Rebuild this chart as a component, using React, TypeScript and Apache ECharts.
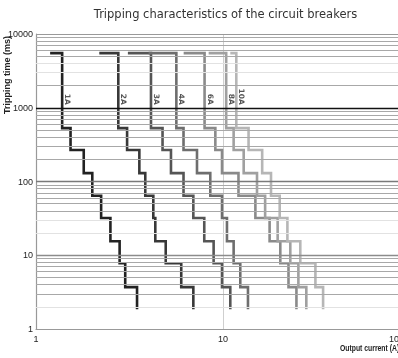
import React, { useEffect, useRef } from "react";
import * as echarts from "echarts";

const ratings = ["1A", "2A", "3A", "4A", "6A", "8A", "10A"];
const lineColors = ["#222222", "#383838", "#555555", "#6e6e6e", "#8a8a8a", "#a0a0a0", "#b6b6b6"];
// trip time levels (ms) of each step, top to bottom
const stepTimesMs = [5500, 530, 268, 130, 64, 32, 15.5, 7.8, 3.7];
const endTimeMs = 1.85;
// current where the top plateau starts (A)
const startCurrents = [1.19, 2.18, 3.1, 4.0, 6.16, 8.38, 10.94];
// current of each vertical drop (A)
const steps1A = [1.38, 1.53, 1.8, 2.0, 2.23, 2.5, 2.8, 3.0, 3.47];
const steps2A = [2.755, 3.07, 3.57, 3.84, 4.24, 4.345, 4.94, 5.98, 6.94];
const steps3A = [4.12, 4.75, 5.27, 6.15, 6.94, 7.94, 8.91, 9.88, 10.94];
const steps4A = [5.63, 6.15, 7.26, 8.55, 9.88, 10.5, 11.4, 12.37, 13.6];
const steps6A = [7.97, 9.1, 9.88, 12.1, 14.9, 17.75, 20.25, 22.4, 24.7];
const steps8A = [10.4, 11.4, 12.9, 15.2, 16.8, 19.6, 22.9, 25.3, 27.9];
const steps10A = [11.78, 13.7, 16.2, 18.06, 20.1, 22.1, 25.9, 31.2, 34.3];
const allSteps = [steps1A, steps2A, steps3A, steps4A, steps6A, steps8A, steps10A];
const labelTimeMs = 1100;

const xTicks = [1, 10, 100];
const yTicks = [1, 10, 100, 1000, 10000];
const minorLinesMs = [
  2, 3, 4, 5, 6, 7, 8, 9,
  20, 30, 40, 50, 60, 70, 80, 90,
  200, 300, 400, 500, 600, 700, 800, 900,
  2000, 3000, 4000, 5000, 6000, 7000, 8000, 9000,
];
const lightMinorMs = [2, 20, 30, 3000, 4000];

function buildSteps(start: number, steps: number[]) {
  const pts: number[][] = [[start, stepTimesMs[0]]];
  steps.forEach((x, i) => {
    pts.push([x, stepTimesMs[i]]);
    pts.push([x, i + 1 < stepTimesMs.length ? stepTimesMs[i + 1] : endTimeMs]);
  });
  return pts;
}

export default function App() {
  const ref = useRef<HTMLDivElement>(null);
  useEffect(() => {
    if (!ref.current) return;
    const chart = echarts.init(ref.current, undefined, { renderer: "svg" });
    const majorStyle: Record<number, any> = {
      10: { color: "#8c8c8c", width: 1.4 },
      100: { color: "#7a7a7a", width: 1.4 },
      1000: { color: "#111111", width: 1.4 },
      10000: { color: "#999999", width: 1 },
    };
    const gridLines = [
      ...minorLinesMs.map((v) => ({
        yAxis: v,
        lineStyle: { color: lightMinorMs.includes(v) ? "#e2e2e2" : "#a8a8a8", width: 1, type: "solid" },
      })),
      ...[10, 100, 1000, 10000].map((v) => ({
        yAxis: v,
        lineStyle: { ...majorStyle[v], type: "solid" },
      })),
    ];
    const lineSeries = ratings.map((r, i) => ({
      name: r,
      type: "line",
      data: buildSteps(startCurrents[i], allSteps[i]),
      showSymbol: false,
      symbol: "none",
      lineStyle: { color: lineColors[i], width: 2.6, join: "miter", cap: "butt" },
      z: 3,
    }));
    const tickFont = { fontSize: 9, color: "#222", fontFamily: "Liberation Sans" };
    const maxX = xTicks[xTicks.length - 1];
    const option: any = {
      animation: false,
      grid: { left: 36, top: 34, width: 374, height: 295, containLabel: false },
      xAxis: {
        type: "log",
        logBase: 10,
        min: xTicks[0],
        max: maxX,
        axisLine: { show: true, lineStyle: { color: "#999", width: 1.2 } },
        axisTick: { show: false },
        splitLine: { show: true, lineStyle: { color: "#cfcfcf", width: 1 } },
        axisLabel: {
          ...tickFont,
          margin: 5,
          alignMaxLabel: "right",
          formatter: (v: number) => (v === maxX ? "{m|" + v + "}" : String(v)),
          rich: { m: { ...tickFont, padding: [0, 6, 0, 0] } },
        },
      },
      yAxis: {
        type: "log",
        logBase: 10,
        min: yTicks[0],
        max: yTicks[yTicks.length - 1],
        axisLine: { show: true, lineStyle: { color: "#999", width: 1.2 } },
        axisTick: { show: false },
        splitLine: { show: false },
        axisLabel: { ...tickFont, margin: 3, formatter: (v: number) => String(v) },
      },
      series: [
        {
          type: "scatter",
          symbolSize: 0,
          data: ratings.map((r, i) => ({ value: [allSteps[i][0], labelTimeMs], name: r })),
          label: {
            show: true,
            formatter: (p: any) => p.name,
            position: [1.5, 0],
            rotate: -90,
            align: "right",
            verticalAlign: "bottom",
            fontSize: 7.5,
            fontWeight: "bold",
            fontFamily: "DejaVu Sans",
            color: "#2a2a2a",
          },
          markLine: {
            silent: true,
            symbol: "none",
            label: { show: false },
            data: gridLines,
          },
          z: 1,
        },
        ...lineSeries,
      ],
      graphic: [
        {
          type: "text",
          x: 225.5,
          y: 14,
          style: {
            text: "Tripping characteristics of the circuit breakers",
            fontSize: 11.5,
            fontFamily: "DejaVu Sans",
            fill: "#333",
            textAlign: "center",
            textVerticalAlign: "middle",
          },
        },
        {
          type: "text",
          x: 2,
          y: 75,
          rotation: Math.PI / 2,
          style: {
            text: "Tripping time (ms)",
            fontSize: 9,
            fontWeight: "bold",
            fontFamily: "Liberation Sans",
            fill: "#222",
            textAlign: "center",
            textVerticalAlign: "top",
          },
        },
        {
          type: "text",
          x: 340,
          y: 343,
          scaleX: 0.72,
          style: {
            text: "Output current (A)",
            fontSize: 9.5,
            fontWeight: "bold",
            fontFamily: "Liberation Sans",
            fill: "#222",
            textAlign: "left",
            textVerticalAlign: "top",
          },
        },
      ],
    };
    chart.setOption(option);
    return () => chart.dispose();
  }, []);
  return (
    <div style={{ position: "fixed", left: 0, top: 0, width: 398, height: 358, overflow: "hidden" }}>
      <div ref={ref} style={{ width: 430, height: 358 }} />
    </div>
  );
}
